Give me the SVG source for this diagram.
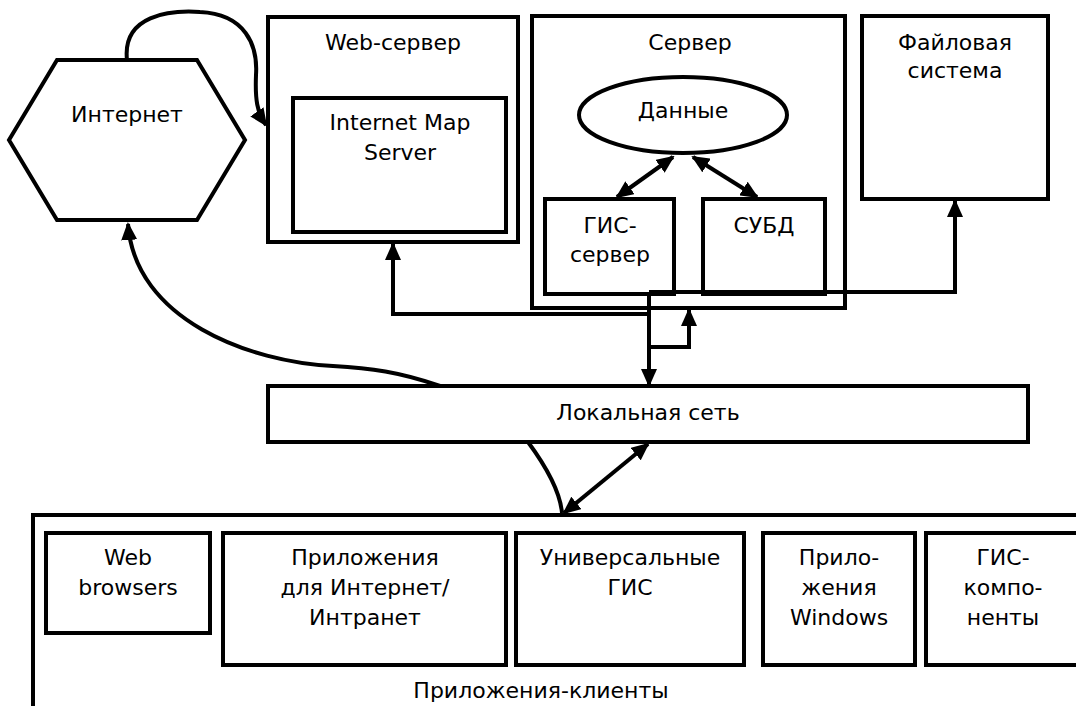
<svg xmlns="http://www.w3.org/2000/svg" width="1076" height="706" viewBox="0 0 1076 706">
<style>
.box{fill:#fff;stroke:#000;stroke-width:4}
.open{fill:none;stroke:#000;stroke-width:4}
.t{font-family:"DejaVu Sans","Liberation Sans",sans-serif;font-size:22px;fill:#000;text-anchor:middle}
.c{fill:none;stroke:#000;stroke-width:4}
</style>
<defs>
<marker id="ah" markerUnits="userSpaceOnUse" markerWidth="18" markerHeight="16" refX="16" refY="8" orient="auto-start-reverse">
<path d="M0,0 L18,8 L0,16 Z" fill="#000"/>
</marker>
</defs>
<rect x="0" y="0" width="1076" height="706" fill="#fff"/>
<g id="internet">
<polygon class="box" points="57,60 197,60 245,140 197,220 57,220 9,140"/>
<text class="t" x="127" y="122">Интернет</text>
</g>
<g id="web-server">
<rect class="box" x="268" y="17" width="250" height="225"/>
<text class="t" x="393" y="50">Web-сервер</text>
</g>
<g id="ims">
<rect class="box" x="293" y="98" width="213" height="134"/>
<text class="t" x="400" y="130">Internet Map</text>
<text class="t" x="400" y="160">Server</text>
</g>
<g id="server">
<rect class="box" x="532" y="16" width="313" height="292"/>
<text class="t" x="690" y="50">Сервер</text>
</g>
<g id="data">
<ellipse class="box" cx="683" cy="115" rx="104" ry="38"/>
<text class="t" x="683" y="118">Данные</text>
</g>
<g id="gis-server">
<rect class="box" x="545" y="199" width="129" height="95"/>
<text class="t" x="610" y="233">ГИС-</text>
<text class="t" x="610" y="262">сервер</text>
</g>
<g id="dbms">
<rect class="box" x="703" y="199" width="122" height="95"/>
<text class="t" x="764" y="233">СУБД</text>
</g>
<g id="fs">
<rect class="box" x="862" y="16" width="186" height="183"/>
<text class="t" x="955" y="50">Файловая</text>
<text class="t" x="955" y="78">система</text>
</g>
<g id="lan">
<rect class="box" x="268" y="386" width="760" height="56"/>
<text class="t" x="648" y="420">Локальная сеть</text>
</g>
<g id="clients">
<path class="open" d="M1080,515 H33 V710"/>
<text class="t" x="541" y="698">Приложения-клиенты</text>
</g>
<g id="web-browsers">
<rect class="box" x="46" y="533" width="164" height="100"/>
<text class="t" x="128" y="565">Web</text>
<text class="t" x="128" y="595">browsers</text>
</g>
<g id="inet-apps">
<rect class="box" x="223" y="533" width="283" height="132"/>
<text class="t" x="365" y="565">Приложения</text>
<text class="t" x="365" y="595">для Интернет/</text>
<text class="t" x="365" y="625">Интранет</text>
</g>
<g id="univ-gis">
<rect class="box" x="516" y="533" width="228" height="132"/>
<text class="t" x="630" y="565">Универсальные</text>
<text class="t" x="630" y="595">ГИС</text>
</g>
<g id="win-apps">
<rect class="box" x="763" y="533" width="152" height="132"/>
<text class="t" x="839" y="565">Прило-</text>
<text class="t" x="839" y="595">жения</text>
<text class="t" x="839" y="625">Windows</text>
</g>
<g id="gis-comp">
<rect class="box" x="926" y="533" width="160" height="132"/>
<text class="t" x="1003" y="565">ГИС-</text>
<text class="t" x="1003" y="595">компо-</text>
<text class="t" x="1003" y="625">ненты</text>
</g>
<g id="connectors">
<path class="c" d="M127,60 C122,15 170,10 200,12 C245,14 258,45 256,75 C255,100 257,112 266,125" marker-end="url(#ah)"/>
<path class="c" d="M440,386 C400,372 370,368 333,366 C250,362 135,320 128,224" marker-end="url(#ah)"/>
<path class="c" d="M649,314 H393 V244" marker-end="url(#ah)"/>
<path class="c" d="M649,292 H955 V201" marker-end="url(#ah)"/>
<path class="c" d="M649,292 V385" marker-end="url(#ah)"/>
<path class="c" d="M649,347 H689 V310" marker-end="url(#ah)"/>
<path class="c" d="M617,197 L673,157" marker-start="url(#ah)" marker-end="url(#ah)"/>
<path class="c" d="M757,197 L693,157" marker-start="url(#ah)" marker-end="url(#ah)"/>
<path class="c" d="M564,513 L648,444" marker-start="url(#ah)" marker-end="url(#ah)"/>
<path class="c" d="M528,442 C545,465 560,490 562,513"/>
</g>
</svg>
